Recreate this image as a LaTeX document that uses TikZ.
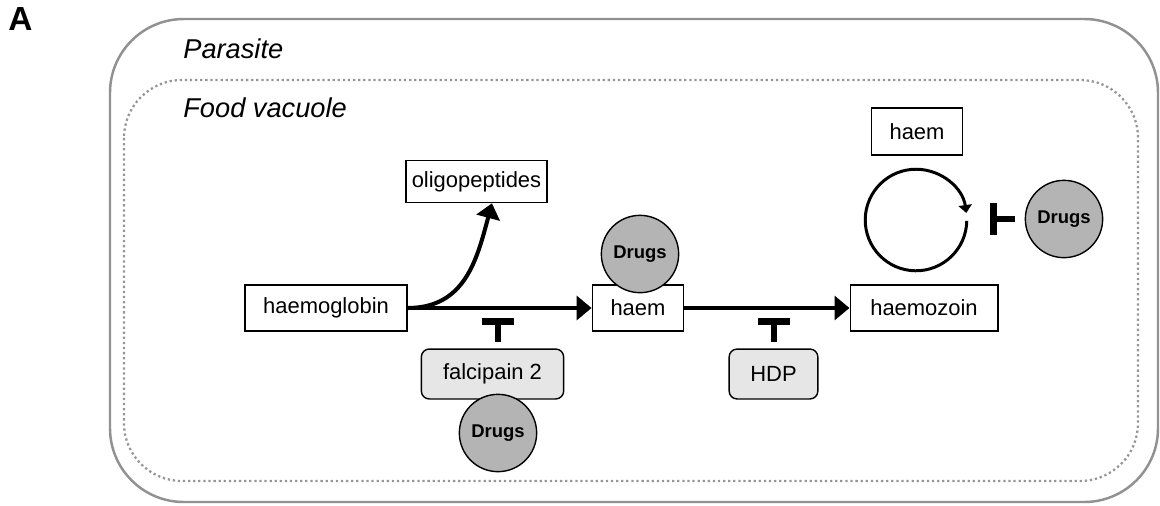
\documentclass[tikz,border=0pt]{standalone}
\usepackage{fontspec}
\setmainfont{Liberation Sans}
\usetikzlibrary{arrows.meta}
\definecolor{cellgray}{RGB}{145,145,145}
\definecolor{vacgray}{RGB}{150,150,150}
\definecolor{enzfill}{RGB}{230,230,230}
\definecolor{drugfill}{RGB}{180,180,180}
\tikzstyle{species} = [rectangle, minimum height=26pt, text centered, draw=black, line width=0.8pt, font=\fontsize{12.5}{14}\selectfont]
\tikzstyle{enzyme} = [rectangle, rounded corners=4.5pt, minimum height=28.4pt, text centered, draw=black, fill=enzfill, line width=0.8pt, font=\fontsize{12.5}{14}\selectfont]
\tikzstyle{drug} = [circle, minimum size=44pt, inner sep=0pt, draw=black, fill=drugfill, line width=0.8pt, font=\bfseries\fontsize{10.5}{12}\selectfont]
\tikzstyle{region} = [anchor=base west, inner sep=0pt, font=\itshape\fontsize{15.5}{18}\selectfont]
\tikzstyle{arrow} = [line width=2.3pt, -{Triangle[length=8.5pt,width=13.5pt]}]
\tikzstyle{inhibit} = [line width=3.4pt, -{Bar[width=18pt,line width=4pt]}]
\tikzstyle{cycle} = [line width=1.7pt, -{Triangle[length=4.5pt,width=7.5pt]}]

\begin{document}
\begin{tikzpicture}[x=0.02cm, y=-0.02cm]
	\useasboundingbox (0,0) rectangle (1160,505);
	% compartments
	\draw[cellgray, line width=1.4pt, rounded corners=42pt] (110,19) rectangle (1158,502);
	\draw[vacgray, line width=1.3pt, dash pattern=on 1.3pt off 1.6pt, rounded corners=33pt] (124,80) rectangle (1138,481);
	\node (panel) [anchor=base west, inner sep=0pt, font=\bfseries\fontsize{19}{22}\selectfont] at (8,30) {A};
	\node (parasite) [region] at (183,58) {Parasite};
	\node (vacuole) [region] at (183,117) {Food vacuole};
	% species and enzymes
	\node (hb) [species, minimum width=92pt] at (326,308) {haemoglobin};
	\node (oli) [species, minimum width=79pt, minimum height=24pt] at (476.5,181.5) {oligopeptides};
	\node (haem) [species, minimum width=52pt] at (638,308) {haem};
	\node (hz) [species, minimum width=84pt] at (924,308) {haemozoin};
	\node (haemfree) [species, minimum width=52pt, minimum height=26.7pt] at (917,131.5) {haem};
	\node (falc) [enzyme, minimum width=81pt] at (492.5,374) {falcipain 2};
	\node (hdp) [enzyme, minimum width=50.5pt] at (773.5,374) {HDP};
	% drugs
	\node (drugA) [drug] at (640,254) {Drugs};
	\node (drugB) [drug] at (498,433) {Drugs};
	\node (drugC) [drug] at (1064,219) {Drugs};
	% reactions
	\draw [arrow] (hb.east) -- (haem.west);
	\draw [arrow] (haem.east) -- (hz.west);
	\draw [arrow] (hb.east) to[out=0, in=-105, looseness=1.1] ([xshift=8.8pt]oli.south);
	\coordinate (tfalc) at (498,318);
	\coordinate (thdp) at (774,318);
	\coordinate (tcyc) at (990,219);
	\draw [inhibit, shorten <=3.5pt] (falc.north -| tfalc) -- (tfalc);
	\draw [inhibit, shorten <=3.5pt] (hdp.north -| thdp) -- (thdp);
	\draw [inhibit, shorten <=5.5pt] (drugC.west) -- (tcyc);
	\coordinate (cyc) at (916,220);
	\draw [cycle] (cyc) ++(-1:28.9pt) arc[start angle=-1, end angle=-352, radius=28.9pt];
\end{tikzpicture}
\end{document}
